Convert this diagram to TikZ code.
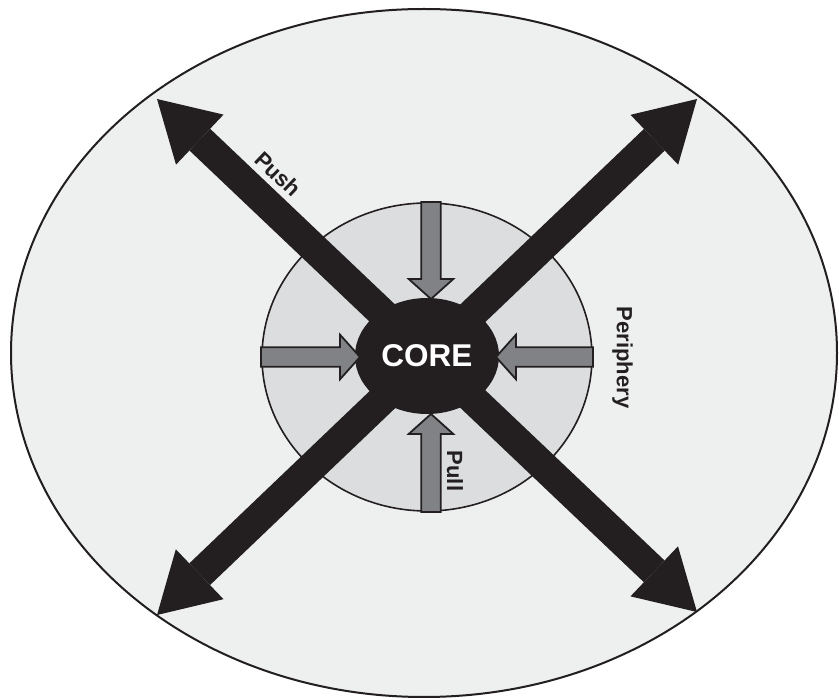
\documentclass[tikz,border=0pt]{standalone}
\usepackage{fontspec}
\setmainfont{Liberation Sans}
\usetikzlibrary{arrows.meta,shapes.geometric}
\definecolor{ink}{RGB}{35,31,32}
\definecolor{outerfill}{RGB}{238,240,239}
\definecolor{innerfill}{RGB}{220,221,223}
\definecolor{pullgray}{RGB}{128,130,133}
\begin{document}
\begin{tikzpicture}[x=1pt,y=-1pt,
  zone/.style={ellipse, draw=ink, inner sep=0pt, outer sep=0pt},
  pushhead/.style={Triangle[length=59pt,width=69pt,line width=0pt]},
  pusharrow/.style={draw=ink, line width=30pt, {Triangle[length=59pt,width=69pt,line width=0pt]}-{Triangle[length=59pt,width=69pt,line width=0pt]}},
  pullshape/.style={draw=ink, fill=pullgray, line width=1.8pt, line join=miter},
  lbl/.style={inner sep=0pt, text=ink, font=\bfseries\fontsize{22}{26}\selectfont},
  pics/pullarrow/.style={code={
    \draw[pullshape] (0,-9.8) -- ({#1-20},-9.8) -- ({#1-20},-22.3) -- (#1,0)
      -- ({#1-20},22.3) -- ({#1-20},9.8) -- (0,9.8) -- cycle;}}
]
\fill[white] (0,0) rectangle (839,700);
\useasboundingbox (0,0) rectangle (839,700);

\node[zone, fill=outerfill, line width=2pt, minimum width=826pt, minimum height=688pt] (outer) at (424,353) {};
\node[zone, fill=innerfill, line width=1.6pt, minimum width=330pt, minimum height=308pt] (inner) at (427,357) {};

\coordinate (tl) at (157,99);
\coordinate (br) at (697,612);
\coordinate (tr) at (697,99);
\coordinate (bl) at (157,615);
\draw[pusharrow] (tl) -- (br);
\draw[pusharrow] (tr) -- (bl);

\node[ellipse, fill=ink, inner sep=0pt, minimum width=144pt, minimum height=116pt,
      text=white, font=\bfseries\fontsize{31.5}{36}\selectfont] (core) at (427,356) {CORE};

\pic at (261,357) {pullarrow=99};
\pic[rotate=180] at (593,357) {pullarrow=97};
\pic[rotate=-90] at (431,202) {pullarrow=97};
\pic[rotate=90] at (431,512) {pullarrow=98};

\node[lbl, rotate=-43.6] (push) at (278,174) {Push};
\node[lbl, rotate=-90] (periphery) at (622.5,357.5) {Periphery};
\node[lbl, rotate=-90] (pull) at (455,471) {Pull};
\end{tikzpicture}
\end{document}
